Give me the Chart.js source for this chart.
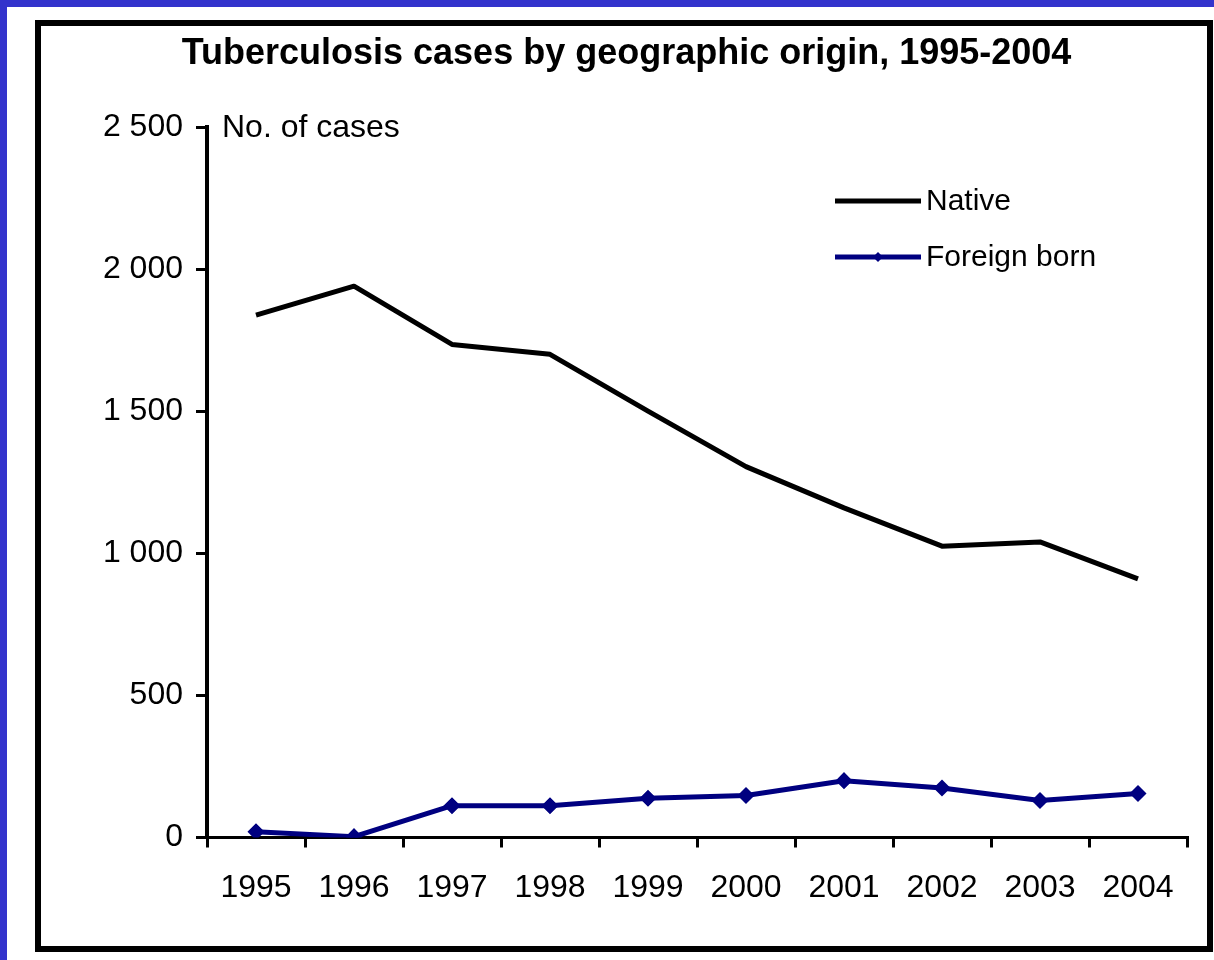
<!DOCTYPE html>
<html>
<head>
<meta charset="utf-8">
<script src="https://cdn.jsdelivr.net/npm/chart.js@4/dist/chart.umd.min.js"></script>
<style>
  html, body { margin: 0; padding: 0; background: #3333cc; }
  #wrap { position: absolute; left: 0; top: 0; width: 1214px; height: 960px; }
</style>
</head>
<body>
<div id="wrap"><canvas id="c" width="1214" height="960"></canvas></div>
<script>
const chartTitle = "Tuberculosis cases by geographic origin, 1995-2004";
const yAxisLabel = "No. of cases";
const years = ["1995","1996","1997","1998","1999","2000","2001","2002","2003","2004"];
const nativeCases = [1838, 1940, 1735, 1700, 1500, 1305, 1160, 1025, 1040, 910];
const foreignBornCases = [20, 3, 112, 112, 138, 148, 200, 174, 130, 155];
const seriesNames = ["Native", "Foreign born"];
const yTicks = [0, 500, 1000, 1500, 2000, 2500];

const FONT = "'Liberation Sans', Arial, sans-serif";

function fmt(v) {
  return String(v).replace(/\B(?=(\d{3})+(?!\d))/g, " ");
}

const framePlugin = {
  id: 'frame',
  beforeDraw(chart) {
    const ctx = chart.ctx;
    ctx.save();
    ctx.fillStyle = '#3333cc';
    ctx.fillRect(0, 0, chart.width, chart.height);
    ctx.fillStyle = '#ffffff';
    ctx.fillRect(7, 7, chart.width - 7, chart.height - 7);
    ctx.strokeStyle = '#000000';
    ctx.lineWidth = 6;
    ctx.strokeRect(38, 23, 1172, 926);
    ctx.restore();
  },
  afterDraw(chart) {
    const ctx = chart.ctx;
    const area = chart.chartArea;
    ctx.save();
    // axis unit label
    ctx.fillStyle = '#000';
    ctx.font = "32px " + FONT;
    ctx.textBaseline = 'middle';
    ctx.textAlign = 'left';
    ctx.fillText(yAxisLabel, area.left + 15, area.top + 1);
    // legend
    const items = chart.data.datasets;
    const lx0 = 835, lx1 = 921, ly0 = 201, gap = 56;
    items.forEach((ds, i) => {
      const y = ly0 + i * gap;
      ctx.strokeStyle = ds.borderColor;
      ctx.lineWidth = 5;
      ctx.beginPath();
      ctx.moveTo(lx0, y);
      ctx.lineTo(lx1, y);
      ctx.stroke();
      if (ds.pointRadius > 0) {
        const r = ds.pointRadius;
        const cx = (lx0 + lx1) / 2;
        ctx.fillStyle = ds.pointBackgroundColor;
        ctx.beginPath();
        ctx.moveTo(cx, y - r);
        ctx.lineTo(cx + r, y);
        ctx.lineTo(cx, y + r);
        ctx.lineTo(cx - r, y);
        ctx.closePath();
        ctx.fill();
      }
      ctx.fillStyle = '#000';
      ctx.font = "30px " + FONT;
      ctx.fillText(ds.label, lx1 + 5, y + 1);
    });
    ctx.restore();
  }
};

new Chart(document.getElementById('c'), {
  type: 'line',
  data: {
    labels: years,
    datasets: [
      {
        label: seriesNames[0],
        data: nativeCases,
        borderColor: '#000000',
        backgroundColor: '#000000',
        borderWidth: 5,
        pointRadius: 0,
        tension: 0,
        borderJoinStyle: 'round'
      },
      {
        label: seriesNames[1],
        data: foreignBornCases,
        borderColor: '#000080',
        backgroundColor: '#000080',
        pointBackgroundColor: '#000080',
        pointBorderColor: '#000080',
        borderWidth: 5,
        pointStyle: 'rectRot',
        pointRadius: 5,
        tension: 0,
        borderJoinStyle: 'round'
      }
    ]
  },
  options: {
    responsive: false,
    animation: false,
    devicePixelRatio: 1,
    layout: { padding: { left: 66, right: 27, top: 10, bottom: 0 } },
    plugins: {
      legend: { display: false },
      tooltip: { enabled: false },
      title: {
        display: true,
        text: chartTitle,
        color: '#000',
        font: { family: FONT, size: 36, weight: 'bold' },
        padding: { top: 22.5, bottom: 51.3 }
      }
    },
    scales: {
      x: {
        type: 'category',
        offset: true,
        grid: { drawOnChartArea: false, drawTicks: true, tickLength: 10, color: '#000', lineWidth: 3, offset: true },
        border: { display: true, color: '#000', width: 3 },
        ticks: { color: '#000', font: { family: FONT, size: 32 }, padding: 21, maxRotation: 0, autoSkip: false },
        afterFit(scale) { scale.height = 122.5; }
      },
      y: {
        min: 0,
        max: 2500,
        afterBuildTicks(scale) { scale.ticks = yTicks.map(v => ({ value: v })); },
        grid: { drawOnChartArea: false, drawTicks: true, tickLength: 11, color: '#000', lineWidth: 3 },
        border: { display: true, color: '#000', width: 4 },
        ticks: { color: '#000', font: { family: FONT, size: 32 }, padding: 13, callback: (v) => fmt(v) },
        afterFit(scale) { scale.width = 141; }
      }
    }
  },
  plugins: [framePlugin]
});
</script>
</body>
</html>
